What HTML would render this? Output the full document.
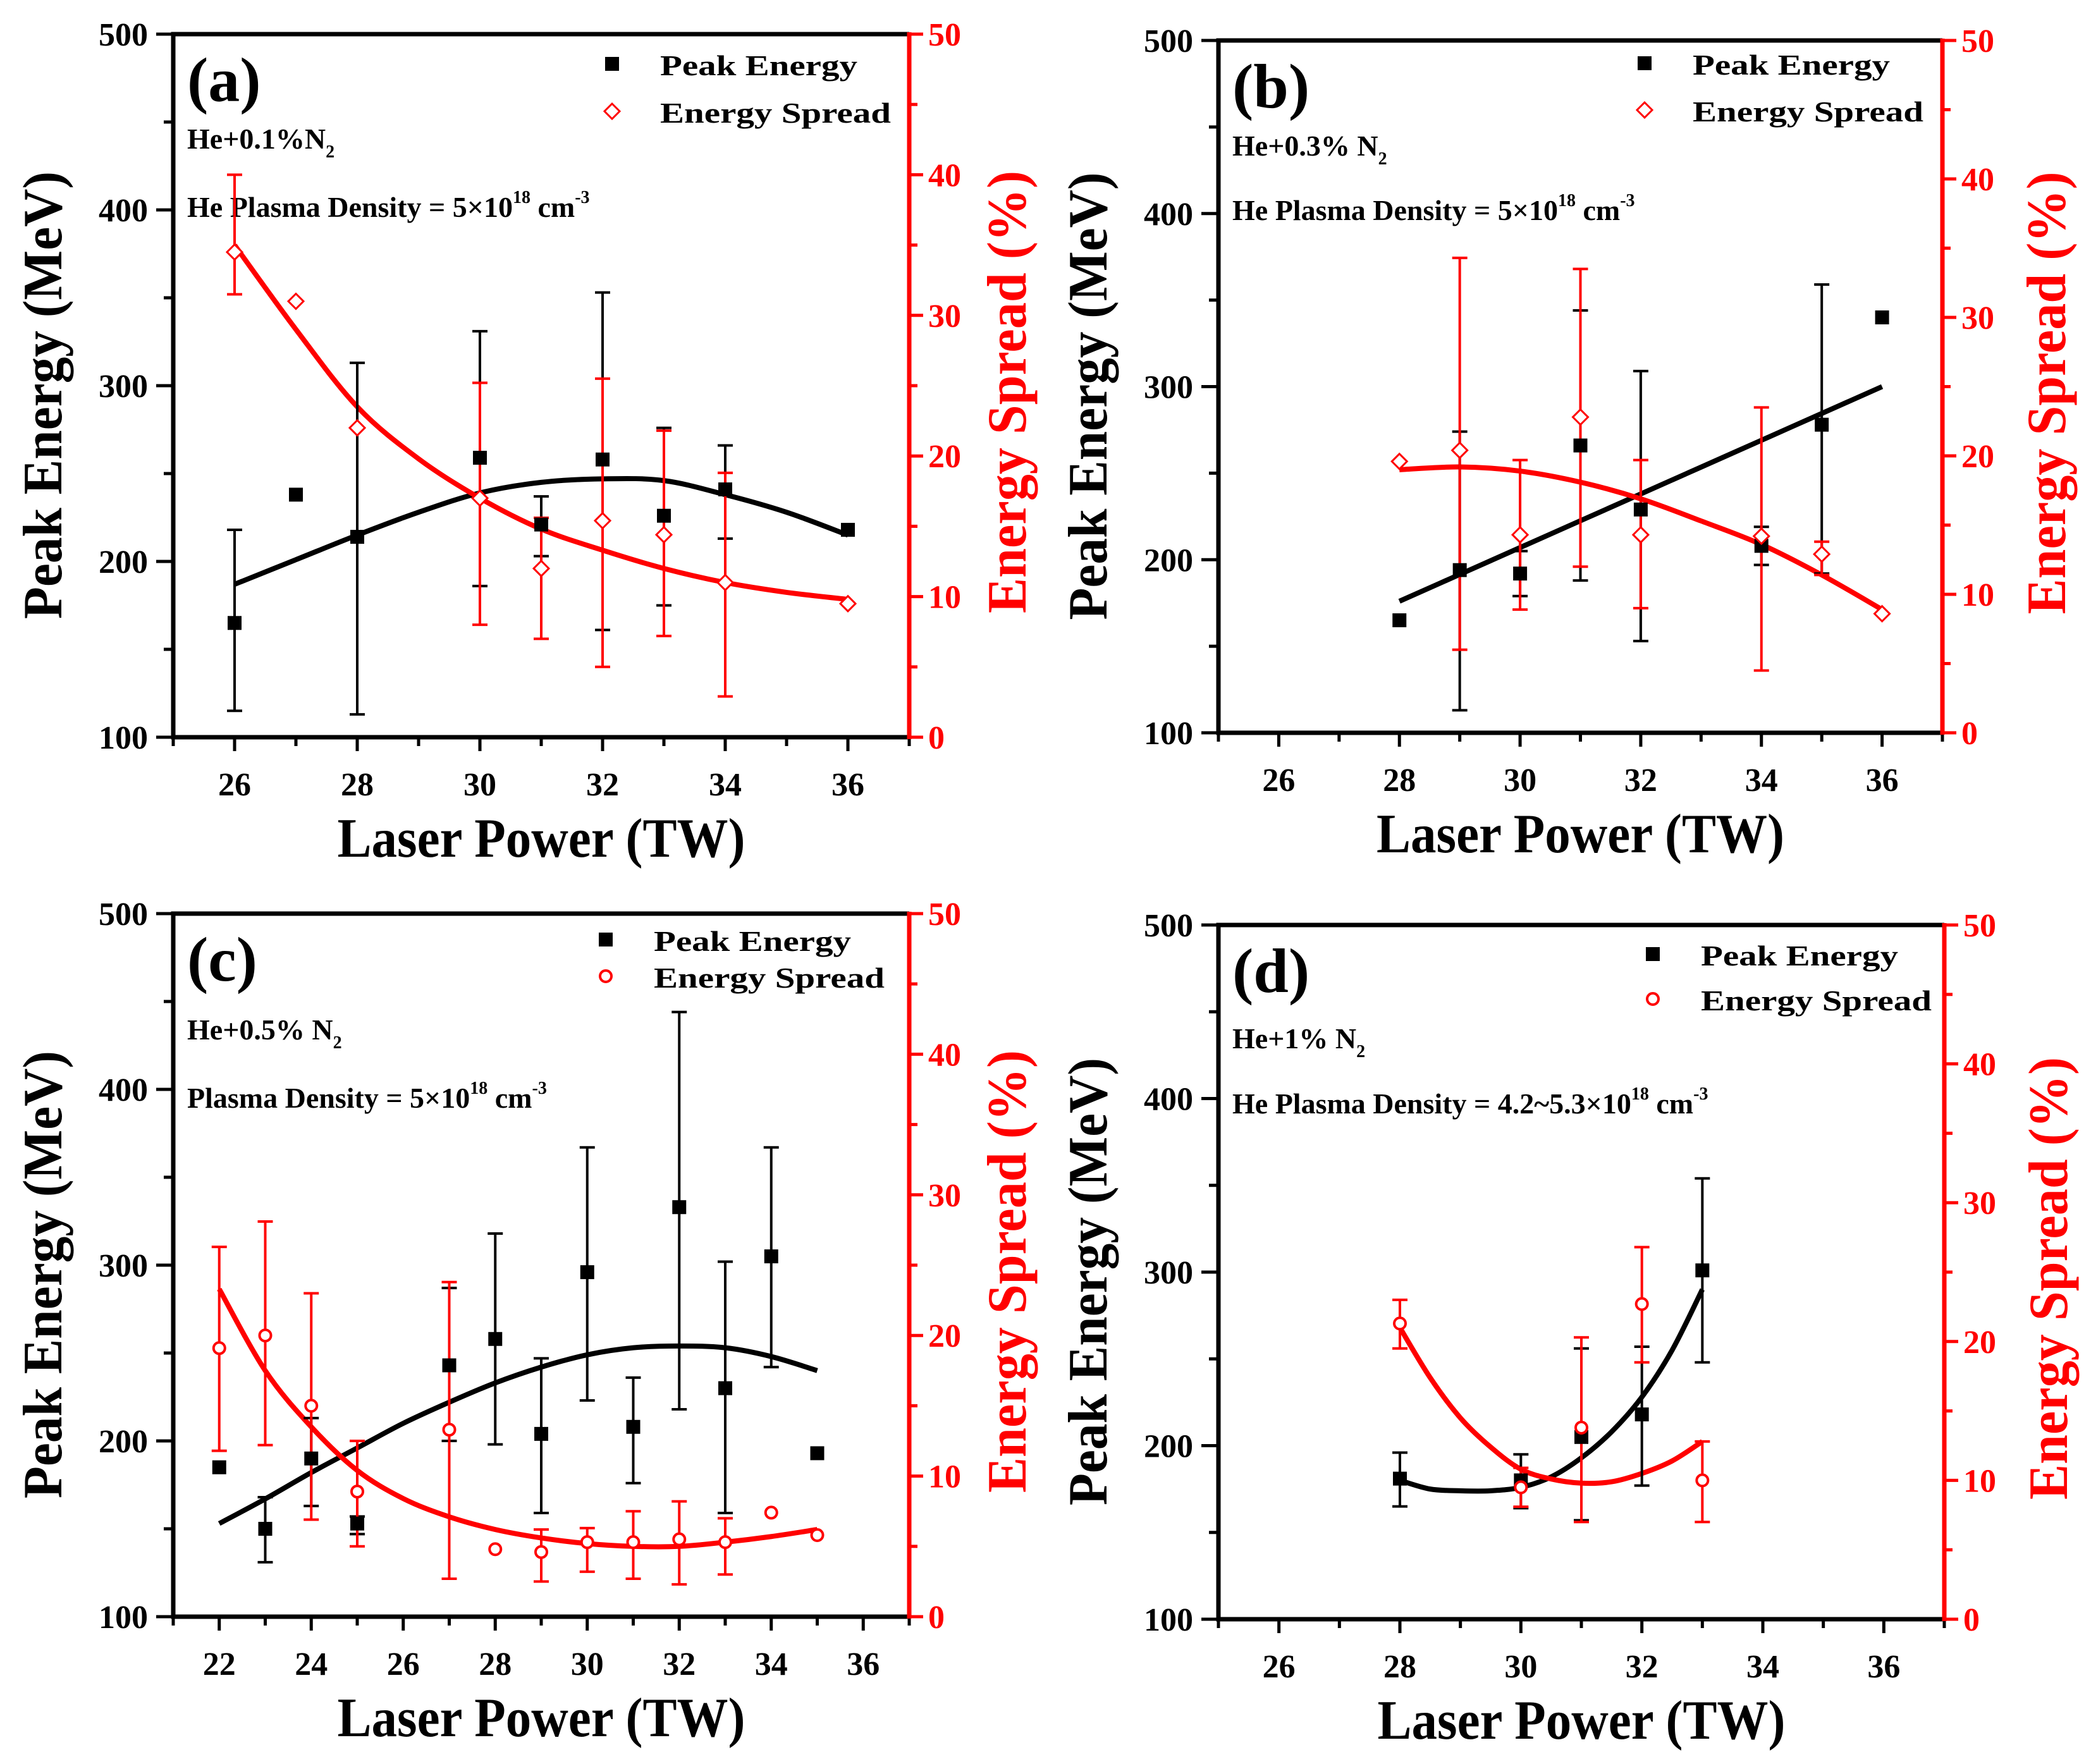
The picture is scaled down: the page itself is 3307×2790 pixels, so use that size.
<!DOCTYPE html>
<html><head><meta charset="utf-8">
<style>
html,body{margin:0;padding:0;background:#fff;}
svg{display:block;}
text{font-family:"Liberation Serif",serif;font-weight:bold;}
</style></head>
<body>
<svg id="fig" xmlns="http://www.w3.org/2000/svg" width="3307" height="2790" viewBox="0 0 3307 2790"></svg>
<script>
// ---- Panel (a) data ----
const aX=[26,27,28,30,31,32,33,34,36];
const aPeak=[165,238,214,259,221,258,226,241,218];
const aPeakLo=[115,null,113,186,203,161,175,213,null];
const aPeakHi=[218,null,313,331,237,353,276,266,null];
const aSpr=[34.5,31,22,17,12,15.4,14.4,11,9.5];
const aSprLo=[31.5,null,null,8,7,5,7.2,2.9,null];
const aSprHi=[40,null,null,25.2,15.6,25.5,21.8,18.8,null];
const aFitX=[26,27,28,29,30,31,32,33,34,35,36];
const aPeakFit=[187,201,215,228,239,245,247,246,238,228,215];
const aSprFit=[35,29,23.5,19.8,17,14.8,13.3,12,11,10.3,9.8];
// ---- Panel (b) data ----
const bX=[28,29,30,31,32,34,35,36];
const bPeak=[165,194,192,266,229,208,278,340];
const bPeakLo=[null,113,179,188,153,197,192,null];
const bPeakHi=[null,274,205,344,309,219,359,null];
const bSpr=[19.6,20.4,14.3,22.8,14.3,14.2,12.9,8.6];
const bSprLo=[null,6,8.9,12,9,4.5,11.4,null];
const bSprHi=[null,34.3,19.7,33.5,19.7,23.5,13.8,null];
const bFitX=[28,29,30,31,32,33,34,35,36];
const bPeakFit=[176,191.5,207,222.5,238,253.5,269,284.5,300];
const bSprFit=[19,19.2,18.9,18.1,16.9,15.3,13.6,11.4,8.9];
// ---- Panel (c) data ----
const cX=[22,23,24,25,27,28,29,30,31,32,33,34,35];
const cPeak=[185,150,190,153,243,258,204,296,208,333,230,305,193];
const cPeakLo=[null,131,163,147,200,198,159,223,176,218,159,242,null];
const cPeakHi=[null,168,213,157,287,318,247,367,236,444,302,367,null];
const cSpr=[19.1,20,15,8.9,13.3,4.8,4.6,5.3,5.3,5.5,5.3,7.4,5.8];
const cSprLo=[11.8,12.2,6.9,5,2.7,null,2.5,3.2,2.7,2.3,3,null,null];
const cSprHi=[26.3,28.1,23,12.5,23.8,null,6.2,6.3,7.5,8.2,7,null,null];
const cFitX=[22,23,24,25,26,27,28,29,30,31,32,33,34,35];
const cPeakFit=[153,167,182,196,210,222,233,242,249,253,254,253,248,240];
const cSprFit=[23.3,17.5,13.5,10.4,8.4,7.1,6.2,5.6,5.2,5.0,5.0,5.3,5.7,6.2];
// ---- Panel (d) data ----
const dX=[28,30,31,32,33];
const dPeak=[181,180,205,218,301];
const dPeakLo=[165,164,157,177,248];
const dPeakHi=[196,195,256,257,354];
const dSpr=[21.3,9.5,13.8,22.7,10];
const dSprLo=[19.5,8.1,7,18.5,7];
const dSprHi=[23,10.9,20.3,26.8,12.8];
const dFitX=[28,28.5,29,29.5,30,30.5,31,31.5,32,32.5,33];
const dPeakFit=[180,175,174,174,176,182,193,208,228,255,290];
const dSprFit=[21,17.4,14.5,12.4,10.8,10.1,9.8,9.9,10.5,11.4,12.8];
// axis tick labels
const leftTicks=[100,200,300,400,500];
const rightTicks=[0,10,20,30,40,50];
const xTicksA=[26,28,30,32,34,36];
const xTicksC=[22,24,26,28,30,32,34,36];

const NS="http://www.w3.org/2000/svg";
const svg=document.getElementById('fig');
function mk(tag,attrs,parent){const e=document.createElementNS(NS,tag);for(const k in attrs)e.setAttribute(k,attrs[k]);(parent||svg).appendChild(e);return e;}

const panels=[
 {id:'a',L:274,T:54,R:1438,B:1166,xmin:25,xmax:37,xt:xTicksA,legX:694,legY1:47,legY2:122,ann1:181,ann2:289,
  X:aX,P:aPeak,PL:aPeakLo,PH:aPeakHi,S:aSpr,SL:aSprLo,SH:aSprHi,FX:aFitX,PF:aPeakFit,SF:aSprFit,
  l1:['He+0.1%N','2'],pre2:'He Plasma Density = 5×10',w2:795,diamond:true,rt:154},
 {id:'b',L:1927,T:64,R:3072,B:1159,xmin:25,xmax:37,xt:xTicksA,legX:674,legY1:36,legY2:110,ann1:182,ann2:284,
  X:bX,P:bPeak,PL:bPeakLo,PH:bPeakHi,S:bSpr,SL:bSprLo,SH:bSprHi,FX:bFitX,PF:bPeakFit,SF:bSprFit,
  l1:['He+0.3% N','2'],pre2:'He Plasma Density = 5×10',w2:777,diamond:true,rt:164},
 {id:'c',L:274,T:1445,R:1438,B:2557,xmin:21,xmax:37,xt:xTicksC,legX:684,legY1:41,legY2:99,ann1:199,ann2:307,
  X:cX,P:cPeak,PL:cPeakLo,PH:cPeakHi,S:cSpr,SL:cSprLo,SH:cSprHi,FX:cFitX,PF:cPeakFit,SF:cSprFit,
  l1:['He+0.5% N','2'],pre2:'Plasma Density = 5×10',w2:698,diamond:false,rt:154},
 {id:'d',L:1927,T:1463,R:3075,B:2561,xmin:25,xmax:37,xt:xTicksA,legX:687,legY1:46,legY2:117,ann1:195,ann2:298,
  X:dX,P:dPeak,PL:dPeakLo,PH:dPeakHi,S:dSpr,SL:dSprLo,SH:dSprHi,FX:dFitX,PF:dPeakFit,SF:dSprFit,
  l1:['He+1% N','2'],pre2:'He Plasma Density = 4.2~5.3×10',w2:925,diamond:false,rt:164}
];

function smooth(pts){
  let d='M'+pts[0][0]+','+pts[0][1];
  for(let i=0;i<pts.length-1;i++){
    const p0=pts[i-1]||pts[i],p1=pts[i],p2=pts[i+1],p3=pts[i+2]||p2;
    const c1x=p1[0]+(p2[0]-p0[0])/6,c1y=p1[1]+(p2[1]-p0[1])/6;
    const c2x=p2[0]-(p3[0]-p1[0])/6,c2y=p2[1]-(p3[1]-p1[1])/6;
    d+=' C'+c1x+','+c1y+' '+c2x+','+c2y+' '+p2[0]+','+p2[1];
  }
  return d;
}

panels.forEach(p=>{
  const g=mk('g',{});
  
  
  const sx=v=>p.L+(v-p.xmin)/(p.xmax-p.xmin)*(p.R-p.L);
  const syL=v=>p.B-(v-100)/400*(p.B-p.T);
  const syR=v=>p.B-v/50*(p.B-p.T);

  // left ticks
  for(let v=100;v<=500;v+=50){
    const maj=v%100===0;
    const t=mk('line',{x1:p.L,x2:p.L-(maj?27:15),y1:syL(v),y2:syL(v),stroke:'#000','stroke-width':5},g);
    
    
  }
  leftTicks.forEach(v=>{
    const t=mk('text',{x:p.L-40,y:syL(v)+18,'text-anchor':'end','font-size':52,fill:'#000'},g);
    t.textContent=v;
    
    
  });
  // right ticks
  for(let v=0;v<=50;v+=5){
    const maj=v%10===0;
    const t=mk('line',{x1:p.R,x2:p.R+(maj?22:13),y1:syR(v),y2:syR(v),stroke:'#f00','stroke-width':5},g);
    
    
  }
  rightTicks.forEach(v=>{
    const t=mk('text',{x:p.R+30,y:syR(v)+18,'text-anchor':'start','font-size':52,fill:'#f00'},g);
    t.textContent=v;
    
    
  });
  // bottom ticks
  for(let v=Math.ceil(p.xmin);v<=p.xmax;v++){
    const maj=p.xt.indexOf(v)>=0;
    const t=mk('line',{x1:sx(v),x2:sx(v),y1:p.B,y2:p.B+(maj?22:14),stroke:'#000','stroke-width':5},g);
    
    
  }
  p.xt.forEach(v=>{
    const t=mk('text',{x:sx(v),y:p.B+92,'text-anchor':'middle','font-size':52,fill:'#000'},g);
    t.textContent=v;
    
    
  });
  // frame
  const fr=mk('path',{d:`M${p.R},${p.T} L${p.L},${p.T} L${p.L},${p.B} L${p.R},${p.B}`,fill:'none',stroke:'#000','stroke-width':7},g);
  
  
  const ra=mk('line',{x1:p.R,x2:p.R,y1:p.T-3,y2:p.B+3,stroke:'#f00','stroke-width':7},g);
  
  

  // axis titles
  const xt=mk('text',{x:(p.L+p.R)/2,y:p.B+189,'text-anchor':'middle','font-size':88,fill:'#000',textLength:645,lengthAdjust:'spacingAndGlyphs'},g);
  xt.textContent='Laser Power (TW)';
  
  
  const ycx=p.L-207, ycy=(p.T+p.B)/2+15;
  const yt=mk('text',{x:0,y:0,transform:`translate(${ycx+30},${ycy}) rotate(-90)`,'text-anchor':'middle','font-size':88,fill:'#000',textLength:708,lengthAdjust:'spacingAndGlyphs'},g);
  yt.textContent='Peak Energy (MeV)';
  
  
  const rcx=p.R+p.rt, rcy=(p.T+p.B)/2+10;
  const rt=mk('text',{x:0,y:0,transform:`translate(${rcx+30},${rcy}) rotate(-90)`,'text-anchor':'middle','font-size':88,fill:'#f00',textLength:700,lengthAdjust:'spacingAndGlyphs'},g);
  rt.textContent='Energy Spread (%)';
  
  

  // panel label
  const pl=mk('text',{x:p.L+22,y:p.T+106,'font-size':100,fill:'#000'},g);
  pl.textContent='('+p.id+')';
  
  

  // annotations
  const a1=mk('text',{x:p.L+22,y:p.T+p.ann1,'font-size':46,fill:'#000'},g);
  
  
  a1.appendChild(document.createTextNode(p.l1[0]));
  const s1=mk('tspan',{'font-size':28,dy:14},a1); s1.textContent=p.l1[1];
  const a2=mk('text',{x:p.L+22,y:p.T+p.ann2,'font-size':46,fill:'#000'},g);
  
  
  a2.appendChild(document.createTextNode(p.pre2));
  const s2=mk('tspan',{'font-size':28,dy:-22},a2); s2.textContent='18';
  const s3=mk('tspan',{'font-size':46,dy:22},a2); s3.textContent=' cm';
  const s4=mk('tspan',{'font-size':28,dy:-22},a2); s4.textContent='-3';

  // legend
  const lx=p.L+p.legX;
  const lsq=mk('rect',{x:lx-11,y:p.T+p.legY1-11,width:22,height:22,fill:'#000'},g);
  
  
  const lt1=mk('text',{x:lx+76,y:p.T+p.legY1+18,'font-size':46,fill:'#000',textLength:312,lengthAdjust:'spacingAndGlyphs'},g);
  lt1.textContent='Peak Energy';
  
  
  const lm=p.diamond?mk('path',{d:`M${lx},${p.T+p.legY2-12} L${lx+12},${p.T+p.legY2} L${lx},${p.T+p.legY2+12} L${lx-12},${p.T+p.legY2} Z`,fill:'#fff',stroke:'#f00','stroke-width':3},g)
    :mk('circle',{cx:lx,cy:p.T+p.legY2,r:9,fill:'#fff',stroke:'#f00','stroke-width':4},g);
  
  
  const lt2=mk('text',{x:lx+76,y:p.T+p.legY2+18,'font-size':46,fill:'#000',textLength:365,lengthAdjust:'spacingAndGlyphs'},g);
  lt2.textContent='Energy Spread';
  
  

  // fit curves
  const fb=mk('path',{d:smooth(p.FX.map((x,i)=>[sx(x),syL(p.PF[i])])),fill:'none',stroke:'#000','stroke-width':8},g);
  
  
  const fr2=mk('path',{d:smooth(p.FX.map((x,i)=>[sx(x),syR(p.SF[i])])),fill:'none',stroke:'#f00','stroke-width':8},g);
  
  

  // error bars & markers
  function errbar(x,lo,hi,sy,col,name){
    if(lo===null||hi===null)return;
    const e=mk('path',{d:`M${x},${sy(lo)} L${x},${sy(hi)} M${x-12},${sy(lo)} L${x+12},${sy(lo)} M${x-12},${sy(hi)} L${x+12},${sy(hi)}`,stroke:col,'stroke-width':4,fill:'none'},g);
    
    
  }
  p.X.forEach((x,i)=>{
    errbar(sx(x),p.PL[i],p.PH[i],syL,'#000','peak-energy-error-bar');
    errbar(sx(x),p.SL[i],p.SH[i],syR,'#f00','energy-spread-error-bar');
  });
  p.X.forEach((x,i)=>{
    const cx=sx(x),cy=syL(p.P[i]);
    const m=mk('rect',{x:cx-11,y:cy-11,width:22,height:22,fill:'#000'},g);
    
    
  });
  p.X.forEach((x,i)=>{
    const cx=sx(x),cy=syR(p.S[i]);
    const m=p.diamond?mk('path',{d:`M${cx},${cy-12} L${cx+12},${cy} L${cx},${cy+12} L${cx-12},${cy} Z`,fill:'#fff',stroke:'#f00','stroke-width':3},g)
      :mk('circle',{cx:cx,cy:cy,r:9,fill:'#fff',stroke:'#f00','stroke-width':4},g);
    
    
  });
});
</script>
</body></html>
